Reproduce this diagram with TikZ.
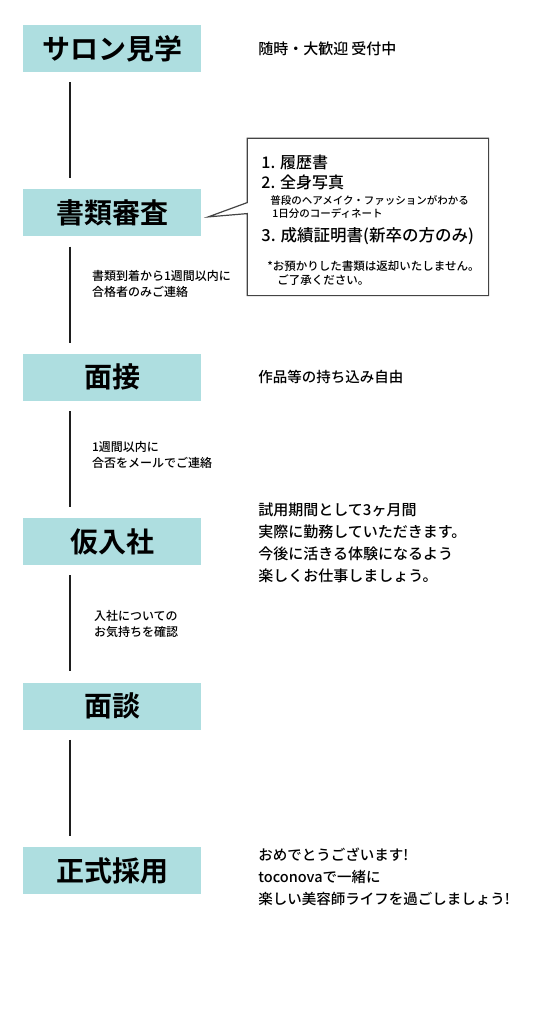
\documentclass[tikz,border=0pt]{standalone}
\usepackage{fontspec}
\setmainfont{Noto Sans CJK JP Medium}[BoldFont={Noto Sans CJK JP Bold}]
\usepackage{tikz}
\usetikzlibrary{positioning,calc}
\definecolor{StepTeal}{HTML}{AEDEE0}
\definecolor{LineGray}{HTML}{1E1E1E}
\definecolor{MemoGray}{HTML}{444444}

\begin{document}
\begin{tikzpicture}[x=1pt,y=-1pt,
node distance=117pt and 57pt,
stepbox/.style={fill=StepTeal,minimum width=178pt,minimum height=47pt,inner sep=0pt,font=\fontsize{28}{28}\selectfont\bfseries},
info/.style={anchor=west,align=left,inner sep=0pt,font=\fontsize{14.5}{22}\selectfont},
note/.style={anchor=west,align=left,inner sep=0pt,font=\fontsize{12}{16}\selectfont},
memotext/.style={anchor=west,inner sep=0pt},
link/.style={line width=1.5pt,LineGray,shorten <=10pt,shorten >=11pt}
]
\useasboundingbox (0,0) rectangle (546,1024);
% steps
\node[stepbox] (s1) at (112,48.5) {サロン見学};
\node[stepbox,below=of s1] (s2) {書類審査};
\node[stepbox,below=of s2] (s3) {面接};
\node[stepbox,below=of s3] (s4) {仮入社};
\node[stepbox,below=of s4] (s5) {面談};
\node[stepbox,below=of s5] (s6) {正式採用};
\draw[link] ([xshift=47pt]s1.south west) -- ([xshift=47pt]s2.north west);
\draw[link] ([xshift=47pt]s2.south west) -- ([xshift=47pt]s3.north west);
\draw[link] ([xshift=47pt]s3.south west) -- ([xshift=47pt]s4.north west);
\draw[link] ([xshift=47pt]s4.south west) -- ([xshift=47pt]s5.north west);
\draw[link] ([xshift=47pt]s5.south west) -- ([xshift=47pt]s6.north west);
% texts on the right
\node[info,right=of s1,font=\fontsize{15}{22}\selectfont] (i1) {随時・大歓迎\hspace{3pt}受付中};
\node[info,right=of s3] (i3) {作品等の持ち込み自由};
\node[info,right=of s4,yshift=-1pt,font=\fontsize{15}{22}\selectfont] (i4) {試用期間として3ヶ月間\\実際に勤務していただきます。\\今後に活きる体験になるよう\\楽しくお仕事しましょう。};
\node[info,right=of s6,yshift=-6pt] (i6) {おめでとうございます!\\toconovaで一緒に\\楽しい美容師ライフを過ごしましょう!};
% notes under the steps
\node[note] (n2) at ([xshift=69pt,yshift=-47pt]s2.south west) {書類到着から1週間以内に\\合格者のみご連絡};
\node[note] (n3) at ([xshift=69pt,yshift=-53.5pt]s3.south west) {1週間以内に\\合否をメールでご連絡};
\node[note] (n4) at ([xshift=71pt,yshift=-58.5pt]s4.south west) {入社についての\\お気持ちを確認};
% callout
\node[minimum width=241pt,minimum height=157pt,inner sep=0pt,right=46pt of s2,yshift=-4pt] (memo) {};
\draw[MemoGray,line width=1.2pt] (memo.north west) -- (memo.north east) -- (memo.south east) -- (memo.south west)
  -- ([yshift=82pt]memo.south west) -- ([xshift=7pt,yshift=-4pt]s2.east) -- ([yshift=93pt]memo.south west) -- cycle;
\node[memotext,font=\fontsize{16}{16}\selectfont] (m1) at ([xshift=14pt,yshift=-24pt]memo.north west) {1. 履歴書};
\node[memotext,font=\fontsize{16}{16}\selectfont] (m2) at ([xshift=14pt,yshift=-44pt]memo.north west) {2. 全身写真};
\node[memotext,font=\fontsize{10.5}{10.5}\selectfont] (m3) at ([xshift=23pt,yshift=-62pt]memo.north west) {普段のヘアメイク・ファッションがわかる};
\node[memotext,font=\fontsize{10.5}{10.5}\selectfont] (m4) at ([xshift=25pt,yshift=-75pt]memo.north west) {1日分のコーディネート};
\node[memotext,font=\fontsize{16.5}{16.5}\selectfont] (m5) at ([xshift=14pt,yshift=-98pt]memo.north west) {3. 成績証明書(新卒の方のみ)};
\node[memotext,font=\fontsize{11.5}{11.5}\selectfont] (m6) at ([xshift=20pt,yshift=-128pt]memo.north west) {*お預かりした書類は返却いたしません。};
\node[memotext,font=\fontsize{11.5}{11.5}\selectfont] (m7) at ([xshift=30pt,yshift=-142pt]memo.north west) {ご了承ください。};
\end{tikzpicture}
\end{document}
